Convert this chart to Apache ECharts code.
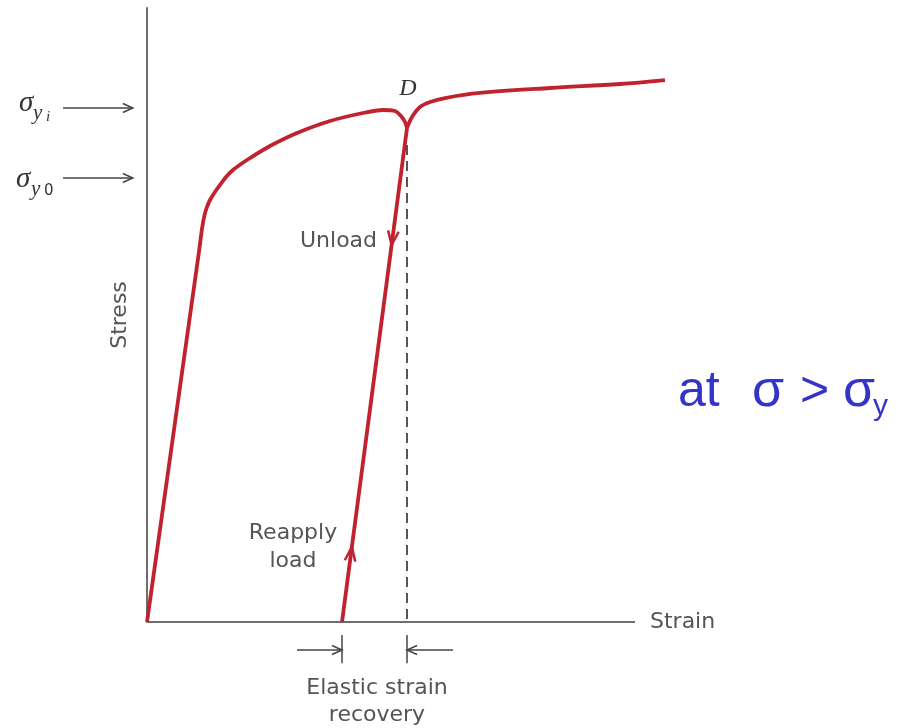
<!DOCTYPE html>
<html>
<head>
<meta charset="utf-8">
<title>Stress-strain: unload and reapply</title>
<script src="https://cdn.jsdelivr.net/npm/echarts@6/dist/echarts.min.js"></script>
<style>
  html, body { margin: 0; padding: 0; background: #fff; }
  #main { width: 903px; height: 728px; }
</style>
</head>
<body>
<div id="main"></div>
<script>
// ---- data (strain / stress in arbitrary units) ----
// loading curve from origin up to point D
var loadCurve = [[0, 0], [10.7, 60.6], [11.3, 64.2], [11.8, 66.3], [12.3, 67.6], [12.91, 68.73], [13.93, 70.03],
  [14.96, 71.17], [16.19, 72.48], [17.62, 73.62], [19.26, 74.59], [21.11, 75.57],
  [25.2, 77.52], [30.74, 79.64], [37.5, 81.6], [44.26, 82.9], [48.36, 83.39],
  [50.82, 83.22], [52.05, 82.41], [52.87, 81.43], [53.28, 80.46]];
// curve after reloading, continues past D
var reloadCurve = [[53.28, 80.46], [54.3, 82.25], [55.94, 83.88], [57.99, 84.69], [61.07, 85.34],
  [68.24, 86.16], [82.58, 86.97], [96.93, 87.62], [106.15, 88.27]];
// elastic unload line from D back to strain axis
var unloadLine = [[53.28, 80.46], [39.96, 0]];
// dashed drop from D
var dropLine = [[53.28, 77.7], [53.28, 0]];
// red direction chevrons: tip x, tip y, from x, from y
var chevrons = [[50.12, 61.4, 53.28, 80.46], [41.98, 12.21, 39.96, 0]];
// grey arrows / ticks: x1, y1, x2, y2, head (1 = arrow at x2,y2)
var yieldArrows = [[-17.2, 83.71, -2.9, 83.71, 1], [-17.2, 72.31, -2.9, 72.31, 1]];
var recoveryMarks = [[30.74, -4.56, 39.96, -4.56, 1], [62.7, -4.56, 53.28, -4.56, 1],
  [39.96, -2.1, 39.96, -6.7, 0], [53.28, -2.1, 53.28, -6.7, 0]];
// strain axis line (stops short of the curve end)
var strainAxis = [[0, 0, 100, 0, 0]];

var RED = '#c0232f';
var GREY = '#555';
var AXIS = '#6e6e6e';
var SANS = '"DejaVu Sans"';

var myChart = echarts.init(document.getElementById('main'));

//arrow renderer, coords come from the axes
function arrowRenderer(color, width) {
  return function (params, api) {
    var a = api.coord([api.value(0), api.value(1)]);
    var b = api.coord([api.value(2), api.value(3)]);
    var kids = [{
      type: 'line',
      shape: { x1: a[0], y1: a[1], x2: b[0], y2: b[1] },
      style: { stroke: color, lineWidth: width }
    }];
    if (api.value(4)) {
      var ang = Math.atan2(b[1] - a[1], b[0] - a[0]);
      var L = 11, w = 0.42;
      kids.push({
        type: 'polyline',
        shape: { points: [[b[0] - L * Math.cos(ang - w), b[1] - L * Math.sin(ang - w)], b,
          [b[0] - L * Math.cos(ang + w), b[1] - L * Math.sin(ang + w)]] },
        style: { stroke: color, fill: null, lineWidth: width }
      });
    }
    return { type: 'group', children: kids };
  };
}

function renderChevron(params, api) {
  var t = api.coord([api.value(0), api.value(1)]);
  var f = api.coord([api.value(2), api.value(3)]);
  var ang = Math.atan2(t[1] - f[1], t[0] - f[0]);
  var L = 15, w = 0.36;
  return {
    type: 'polyline',
    shape: { points: [[t[0] - L * Math.cos(ang - w), t[1] - L * Math.sin(ang - w)], t,
      [t[0] - L * Math.cos(ang + w), t[1] - L * Math.sin(ang + w)]] },
    style: { stroke: RED, fill: null, lineWidth: 2.5 }
  };
}

function redLine(data, smooth) {
  return {
    type: 'line', data: data, smooth: smooth, symbol: 'none', clip: false,
    lineStyle: { color: RED, width: 3.8 }, z: 5
  };
}

function label(txt, x, y, font, color, align) {
  return { type: 'text', x: x, y: y, style: { text: txt, font: font, fill: color, align: align || 'left', verticalAlign: 'middle' } };
}

var option = {
  animation: false,
  grid: { left: 147, right: 238, top: 8, bottom: 106 },
  xAxis: {
    type: 'value', min: 0, max: 106.15,
    axisLine: { show: false },
    axisTick: { show: false }, axisLabel: { show: false }, splitLine: { show: false }
  },
  yAxis: {
    type: 'value', min: 0, max: 100,
    name: 'Stress', nameLocation: 'middle', nameRotate: 90, nameGap: 16,
    nameTextStyle: { fontFamily: SANS, fontSize: 22, color: GREY },
    axisLine: { show: true, lineStyle: { color: AXIS, width: 2 } },
    axisTick: { show: false }, axisLabel: { show: false }, splitLine: { show: false }
  },
  series: [
    { type: 'custom', renderItem: arrowRenderer(AXIS, 2), data: strainAxis, z: 2 },
    {
      type: 'line', data: dropLine, symbol: 'none',
      lineStyle: { color: GREY, width: 2, type: [10, 6] }, z: 3
    },
    redLine(loadCurve, 0.25),
    redLine(reloadCurve, 0.35),
    redLine(unloadLine, false),
    { type: 'custom', renderItem: renderChevron, data: chevrons, z: 6 },
    { type: 'custom', renderItem: arrowRenderer('#444', 1.5), data: yieldArrows },
    { type: 'custom', renderItem: arrowRenderer('#444', 1.5), data: recoveryMarks }
  ],
  graphic: [
    label('Strain', 650, 622, '22px ' + SANS, GREY),
    label('Unload', 300, 241, '22px ' + SANS, GREY),
    label('Reapply', 293, 533, '22px ' + SANS, GREY, 'center'),
    label('load', 293, 561, '22px ' + SANS, GREY, 'center'),
    label('Elastic strain', 377, 688, '22px ' + SANS, GREY, 'center'),
    label('recovery', 377, 715, '22px ' + SANS, GREY, 'center'),
    label('D', 408, 89, 'italic 24px "Liberation Serif"', '#333', 'center'),
    // sigma labels left of stress axis
    label('σ', 19, 103, 'italic 29px "Liberation Serif"', '#333'),
    label('y', 33, 113, 'italic 21px "Liberation Serif"', '#333'),
    label('i', 46, 117, 'italic 15px "Liberation Serif"', '#333'),
    label('σ', 16, 179, 'italic 29px "Liberation Serif"', '#333'),
    label('y', 31, 189, 'italic 21px "Liberation Serif"', '#333'),
    label('0', 44, 191, '15px ' + SANS, '#333'),
    // blue note
    label('at', 678, 392, '50px "Liberation Sans"', '#3434c8'),
    label('σ', 752, 392, '52px "Liberation Sans"', '#3434c8'),
    label('>', 800, 392, '50px "Liberation Sans"', '#3434c8'),
    label('σ', 843, 392, '52px "Liberation Sans"', '#3434c8'),
    label('y', 873, 407, '30px "Liberation Sans"', '#3434c8')
  ]
};

myChart.setOption(option);
</script>
</body>
</html>
